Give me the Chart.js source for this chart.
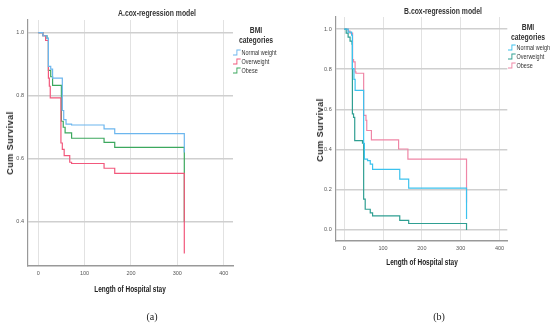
<!DOCTYPE html>
<html lang="en">
<head>
<meta charset="UTF-8">
<title>Cox regression survival curves</title>
<script src="https://cdn.jsdelivr.net/npm/chart.js@4.4.1/dist/chart.umd.min.js"></script>
<style>
    body { margin: 0; background: #fff; width: 550px; height: 328px; position: relative; overflow: hidden;
           font-family: "Liberation Sans", sans-serif; color: #222; }
    .box { position: absolute; }
    .txt { position: absolute; white-space: nowrap; }
    .title { font-size: 9px; font-weight: bold; transform: translateX(-50%) scaleX(0.76); color: #333; }
    .ltitle { font-size: 9px; font-weight: bold; text-align: center; line-height: 10px; transform: translateX(-50%) scaleX(0.76); color: #333; }
    .item { font-size: 7px; line-height: 9px; transform: scaleX(0.78); transform-origin: 0 0; color: #333; }
    .item svg { vertical-align: -1px; margin-right: 1px; }
    .xtitle { font-size: 9px; font-weight: bold; transform: translateX(-50%) scaleX(0.72); }
    .ytitle { font-size: 9px; font-weight: bold; transform: translate(-50%, -50%) rotate(-90deg); letter-spacing: 0.5px; }
    .cap { font-family: "Liberation Serif", serif; font-size: 10px; transform: translateX(-50%); }
</style>
</head>
<body>
<div class="box" style="left:0;top:0;width:240px;height:285px"><canvas id="chartA"></canvas></div>
<div class="box" style="left:310px;top:0;width:205px;height:260px"><canvas id="chartB"></canvas></div>

<div class="txt title" style="left:157px;top:8px">A.cox-regression model</div>
<div class="txt ltitle" style="left:256px;top:25px">BMI<br>categories</div>
<div class="txt item" id="legA" style="left:233px;top:48px"></div>
<div class="txt ytitle" style="left:10px;top:143px">Cum Survival</div>
<div class="txt xtitle" style="left:130px;top:284px">Length of Hospital stay</div>
<div class="txt cap" style="left:152px;top:311px">(a)</div>

<div class="txt title" style="left:443px;top:6px">B.cox-regression model</div>
<div class="txt ltitle" style="left:528px;top:22px">BMI<br>categories</div>
<div class="txt item" id="legB" style="left:508px;top:43px"></div>
<div class="txt ytitle" style="left:320px;top:130px">Cum Survival</div>
<div class="txt xtitle" style="left:422px;top:257px">Length of Hospital stay</div>
<div class="txt cap" style="left:439px;top:311px">(b)</div>

<script>
    // panel A: days and cumulative survival at each step
    var aNormalT = [0, 10, 19, 22, 27, 31, 52, 55, 60, 72, 142, 165, 315];
    var aNormalS = [1.0, 0.99, 0.982, 0.893, 0.884, 0.856, 0.753, 0.724, 0.71, 0.707, 0.695, 0.68, 0.62];
    var aOverT = [0, 10, 16, 22, 24, 26, 49, 52, 56, 68, 72, 142, 165, 315];
    var aOverS = [1.0, 0.99, 0.975, 0.856, 0.83, 0.793, 0.65, 0.63, 0.61, 0.589, 0.585, 0.57, 0.554, 0.30];
    var aObeseT = [0, 10, 19, 22, 27, 31, 50, 54, 58, 72, 142, 165, 315];
    var aObeseS = [1.0, 0.99, 0.982, 0.88, 0.86, 0.833, 0.719, 0.70, 0.682, 0.665, 0.652, 0.636, 0.40];

    // panel B
    var bNormalT = [0, 10, 19, 21, 25, 28, 50, 52, 60, 67, 73, 143, 166, 315];
    var bNormalS = [1.0, 0.985, 0.97, 0.803, 0.75, 0.695, 0.43, 0.353, 0.345, 0.328, 0.302, 0.253, 0.208, 0.055];
    var bOverT = [0, 5, 10, 15, 20, 21, 24, 27, 47, 50, 54, 67, 73, 143, 166, 315];
    var bOverS = [1.0, 0.98, 0.96, 0.94, 0.925, 0.578, 0.56, 0.445, 0.432, 0.153, 0.103, 0.085, 0.07, 0.048, 0.032, 0.0];
    var bObeseT = [0, 10, 15, 21.5, 24, 28, 30, 50, 56, 58, 70, 140, 164, 315];
    var bObeseS = [1.0, 0.99, 0.98, 0.848, 0.837, 0.787, 0.78, 0.57, 0.545, 0.495, 0.448, 0.403, 0.353, 0.137];

    var categories = ["Normal weight", "Overweight", "Obese"];
    var xTicks = [0, 100, 200, 300, 400];
    var aYTicks = [0.4, 0.6, 0.8, 1.0];
    var bYTicks = [0.0, 0.2, 0.4, 0.6, 0.8, 1.0];

    var colorsA = ["#6cb6ee", "#f2587c", "#3ca85e"];
    var colorsB = ["#3cc2ee", "#2f9f92", "#ef86a6"];

    function pts(t, s) {
        return t.map(function (v, i) { return { x: v, y: s[i] }; });
    }

    function legend(id, colors) {
        var html = "";
        for (let i = 0; i < categories.length; i++) {
            html += '<div><svg width="10" height="7"><polyline points="0,6 5,6 5,1 10,1" fill="none" stroke="' +
                colors[i] + '" stroke-width="1.2"/></svg>' + categories[i] + '</div>';
        }
        document.getElementById(id).innerHTML = html;
    }
    legend("legA", colorsA);
    legend("legB", colorsB);

    var tickFont = { size: 5.5, family: "Liberation Sans, sans-serif" };

    function makeChart(id, series, colors, yMin, yMax, yTicks, yWidth, padTop, padRight) {
        return new Chart(id, {
            type: "line",
            data: {
                datasets: series.map(function (s, i) {
                    return {
                        label: categories[i],
                        data: s,
                        borderColor: colors[i],
                        borderWidth: 1.2,
                        pointRadius: 0,
                        stepped: true,
                        fill: false
                    };
                })
            },
            options: {
                responsive: true,
                maintainAspectRatio: false,
                animation: false,
                layout: { padding: { top: padTop, right: padRight, left: 0, bottom: 0 } },
                plugins: { legend: { display: false }, tooltip: { enabled: false } },
                scales: {
                    x: {
                        type: "linear",
                        min: -22,
                        max: 420,
                        afterBuildTicks: function (axis) { axis.ticks = xTicks.map(function (v) { return { value: v }; }); },
                        afterFit: function (axis) { axis.height = 19; },
                        ticks: { font: tickFont, color: "#555", padding: 4, maxRotation: 0 },
                        grid: { color: "#e2e2e2", lineWidth: 1, drawTicks: false },
                        border: { color: "#999", width: 1.5 }
                    },
                    y: {
                        min: yMin,
                        max: yMax,
                        afterBuildTicks: function (axis) { axis.ticks = yTicks.map(function (v) { return { value: v }; }); },
                        afterFit: function (axis) { axis.width = yWidth; },
                        ticks: {
                            font: tickFont,
                            color: "#555",
                            padding: 4,
                            callback: function (v) { return Number(v).toFixed(1); }
                        },
                        grid: { color: "#cfcfcf", lineWidth: 1.6, drawTicks: false },
                        border: { color: "#999", width: 1.2 }
                    }
                }
            }
        });
    }

    makeChart("chartA", [pts(aNormalT, aNormalS), pts(aOverT, aOverS), pts(aObeseT, aObeseS)],
        colorsA, 0.26, 1.04, aYTicks, 28, 20, 7);
    makeChart("chartB", [pts(bNormalT, bNormalS), pts(bOverT, bOverS), pts(bObeseT, bObeseS)],
        colorsB, -0.055, 1.06, bYTicks, 25.7, 17, 7.7);
</script>
</body>
</html>
